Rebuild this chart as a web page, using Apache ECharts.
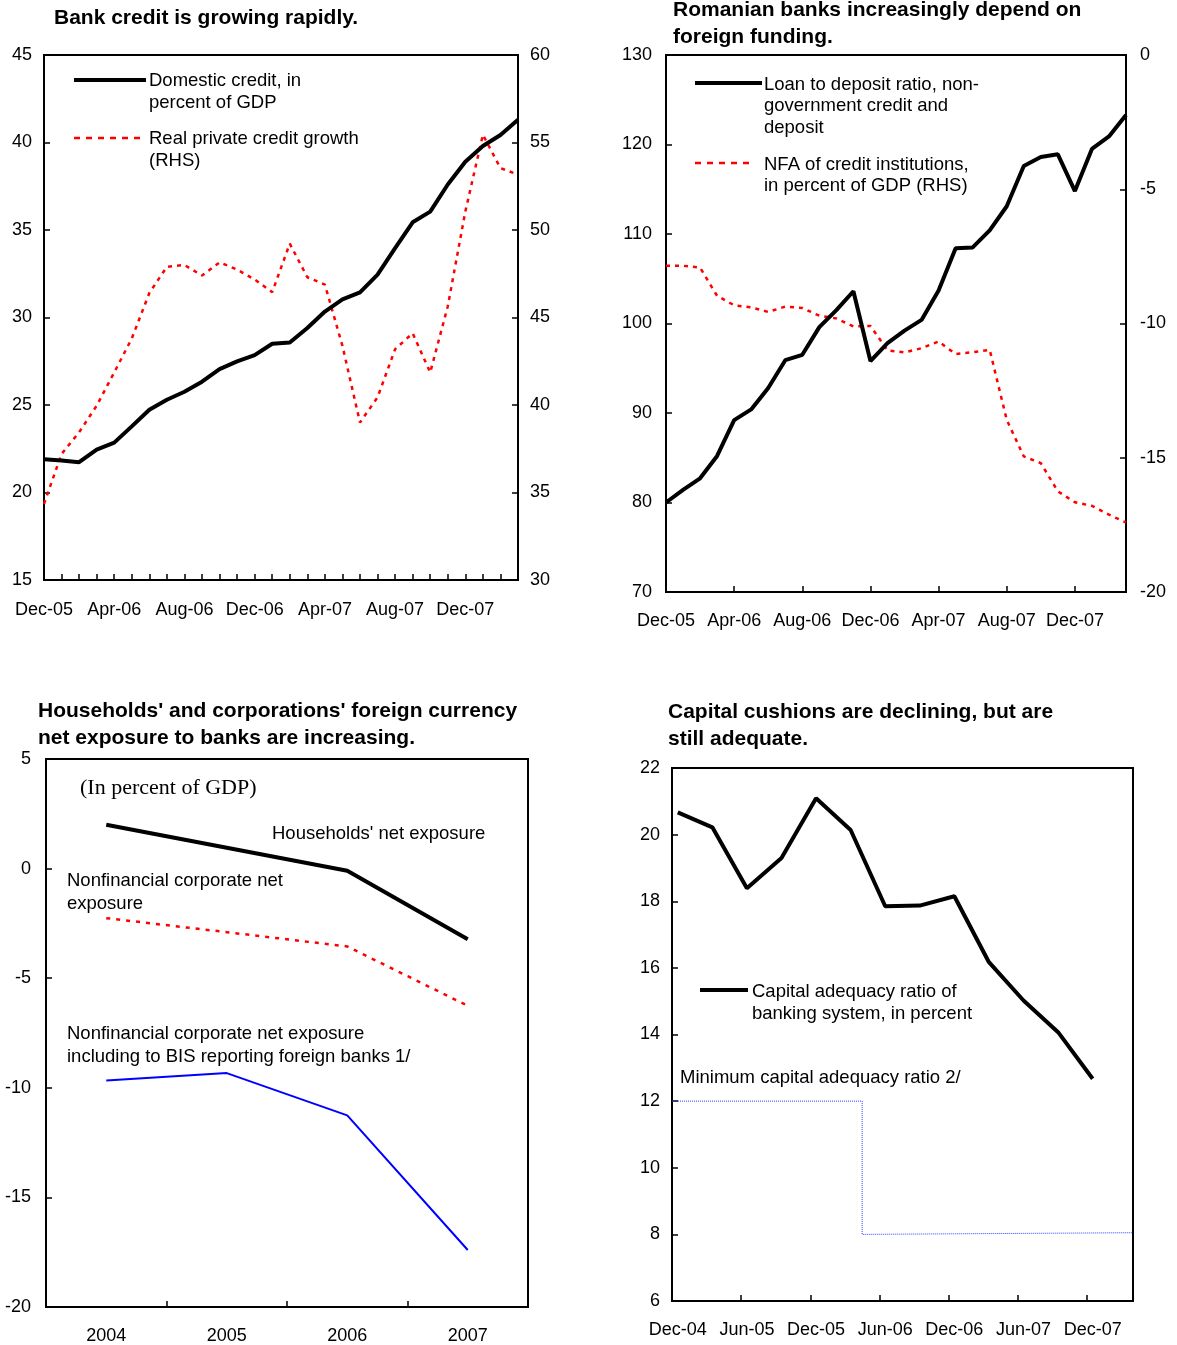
<!DOCTYPE html>
<html>
<head>
<meta charset="utf-8">
<script src="https://cdn.jsdelivr.net/npm/echarts@6/dist/echarts.min.js"></script>
<style>
html,body{margin:0;padding:0;background:#fff;}
#c{width:1177px;height:1345px;}
</style>
</head>
<body>
<div id="c"></div>
<script>
// ---------- tick label helpers ----------
const MONTH_NAMES = ['Jan','Feb','Mar','Apr','May','Jun','Jul','Aug','Sep','Oct','Nov','Dec'];
function monthLabels(startYear, startMonthIdx, count) {
  const out = [];
  for (let i = 0; i < count; i++) {
    const m = (startMonthIdx + i) % 12;
    const y = startYear + Math.floor((startMonthIdx + i) / 12);
    out.push(MONTH_NAMES[m] + '-' + String(y % 100).padStart(2, '0'));
  }
  return out;
}

// ---------- Panel 1: Bank credit (Dec-05 .. Mar-08, monthly) ----------
const creditMonths = monthLabels(2005, 11, 28);
const domesticCredit = [21.9, 21.83, 21.73, 22.45, 22.85, 23.78, 24.73, 25.3, 25.76, 26.33,
  27.05, 27.49, 27.85, 28.5, 28.57, 29.4, 30.34, 31.03, 31.44, 32.45,
  33.97, 35.44, 36.05, 37.6, 38.9, 39.8, 40.43, 41.3];
const realCreditGrowth = [34.35, 37.2, 38.44, 39.96, 41.86, 43.8, 46.4, 47.9, 48.0, 47.4,
  48.15, 47.74, 47.17, 46.45, 49.22, 47.3, 46.88, 43.38, 39.0, 40.44,
  43.19, 44.1, 41.86, 45.64, 51.06, 55.44, 53.54, 53.16];

// ---------- Panel 2: Foreign funding (Dec-05 .. Mar-08, monthly) ----------
const fundingMonths = monthLabels(2005, 11, 28);
const loanDepositRatio = [80.0, 81.4, 82.7, 85.2, 89.2, 90.4, 92.8, 95.9, 96.5, 99.6,
  101.5, 103.6, 95.8, 97.8, 99.2, 100.4, 103.7, 108.4, 108.5, 110.4,
  113.1, 117.6, 118.6, 118.9, 114.8, 119.5, 120.9, 123.3];
const nfaCreditInst = [-7.85, -7.85, -7.92, -8.97, -9.32, -9.4, -9.57, -9.37, -9.42, -9.71,
  -9.81, -10.11, -10.09, -11.0, -11.08, -10.92, -10.67, -11.14, -11.07, -10.98,
  -13.59, -14.95, -15.2, -16.25, -16.66, -16.79, -17.12, -17.41];

// ---------- Panel 3: FX net exposure ----------
const exposureYears = ['2004', '2005', '2006', '2007'];
const householdsExposure = [2.0, 0.95, -0.1, -3.22];
const corporateExposure = [-2.26, -2.9, -3.55, -6.26];
const corporateBisExposure = [-9.67, -9.33, -11.26, -17.4];

// ---------- Panel 4: Capital adequacy (Dec-04 .. Mar-08 axis) ----------
const carMonths = monthLabels(2004, 11, 40);
const carQuarterly = [20.67, 20.22, 18.39, 19.3, 21.09, 20.14, 17.85, 17.87, 18.15,
  16.17, 15.02, 14.07, 12.67]; // Dec-04, Mar-05, ..., Dec-07
const minCarSteps = [[0, 12], [16.5, 12], [16.5, 8], [40, 8.05]]; // [month position, ratio]

const carSeriesData = carMonths.map((m, i) =>
  (i % 3 === 0 && i / 3 < carQuarterly.length) ? carQuarterly[i / 3] : null);

// ---------- styling ----------
const FONT = '"Liberation Sans", Arial, sans-serif';
const TICK_FS = 18;
const TEXT_FS = 18.5;
const TITLE_FS = 21;
const RED = '#ff0000';

function yAxis(grid, min, max, interval, position, margin) {
  return {
    gridIndex: grid, type: 'value', min: min, max: max, interval: interval, position: position,
    axisLine: { show: true, onZero: false, lineStyle: { color: '#000', width: 2 } },
    axisTick: { show: true, inside: true, length: 6, lineStyle: { color: '#000', width: 1.5 } },
    axisLabel: { color: '#000', fontSize: TICK_FS, fontFamily: FONT, margin: margin },
    splitLine: { show: false }
  };
}
function xCat(grid, data, boundaryGap, labelInterval, tickInterval, margin) {
  return {
    gridIndex: grid, type: 'category', data: data, boundaryGap: boundaryGap,
    axisLine: { show: true, onZero: false, lineStyle: { color: '#000', width: 2 } },
    axisTick: { show: true, inside: true, length: 6, interval: tickInterval, lineStyle: { color: '#000', width: 1.5 } },
    axisLabel: { color: '#000', fontSize: TICK_FS, fontFamily: FONT, margin: margin, interval: labelInterval },
    splitLine: { show: false }
  };
}
const gridBase = { show: true, borderColor: '#000', borderWidth: 2, backgroundColor: 'transparent', containLabel: false };

function txt(x, y, text, opts) {
  opts = opts || {};
  return {
    type: 'text', left: x, top: y, silent: true,
    style: {
      text: text, fill: '#000',
      font: (opts.weight || 'normal') + ' ' + (opts.size || TEXT_FS) + 'px ' + (opts.family || FONT),
      lineHeight: opts.lh || 22
    }
  };
}
function seg(x1, y1, x2, y2, color, width, dash) {
  return {
    type: 'line', silent: true,
    shape: { x1: x1, y1: y1, x2: x2, y2: y2 },
    style: { stroke: color, lineWidth: width, lineDash: dash || null }
  };
}

const option = {
  backgroundColor: '#fff',
  animation: false,
  grid: [
    Object.assign({ left: 44, top: 55, width: 474, height: 525 }, gridBase),
    Object.assign({ left: 666, top: 55, width: 460, height: 537 }, gridBase),
    Object.assign({ left: 46, top: 759, width: 482, height: 548 }, gridBase),
    Object.assign({ left: 672, top: 768, width: 461, height: 533 }, gridBase)
  ],
  xAxis: [
    xCat(0, creditMonths, false, 3, 0, 21),
    xCat(1, fundingMonths, false, 3, 3, 20),
    xCat(2, exposureYears, true, 0, 0, 20),
    xCat(3, carMonths, true, 5, 5, 20),
    { gridIndex: 3, type: 'value', min: 0, max: 40, show: false }
  ],
  yAxis: [
    yAxis(0, 15, 45, 5, 'left', 12),
    yAxis(0, 30, 60, 5, 'right', 12),
    yAxis(1, 70, 130, 10, 'left', 14),
    yAxis(1, -20, 0, 5, 'right', 14),
    yAxis(2, -20, 5, 5, 'left', 15),
    yAxis(3, 6, 22, 2, 'left', 12)
  ],
  series: [
    { name: 'Domestic credit', type: 'line', xAxisIndex: 0, yAxisIndex: 0, data: domesticCredit,
      symbol: 'none', lineStyle: { color: '#000', width: 4 }, z: 3 },
    { name: 'Real private credit growth', type: 'line', xAxisIndex: 0, yAxisIndex: 1, data: realCreditGrowth,
      symbol: 'none', lineStyle: { color: RED, width: 2.5, type: [4, 5] }, z: 2 },
    { name: 'Loan to deposit ratio', type: 'line', xAxisIndex: 1, yAxisIndex: 2, data: loanDepositRatio,
      symbol: 'none', lineStyle: { color: '#000', width: 4 }, z: 3 },
    { name: 'NFA', type: 'line', xAxisIndex: 1, yAxisIndex: 3, data: nfaCreditInst,
      symbol: 'none', lineStyle: { color: RED, width: 2.5, type: [4, 5] }, z: 2 },
    { name: 'Households', type: 'line', xAxisIndex: 2, yAxisIndex: 4, data: householdsExposure,
      symbol: 'none', lineStyle: { color: '#000', width: 4 } },
    { name: 'Corporate', type: 'line', xAxisIndex: 2, yAxisIndex: 4, data: corporateExposure,
      symbol: 'none', lineStyle: { color: RED, width: 2.5, type: [4, 6] } },
    { name: 'Corporate BIS', type: 'line', xAxisIndex: 2, yAxisIndex: 4, data: corporateBisExposure,
      symbol: 'none', lineStyle: { color: '#0000ff', width: 2 } },
    { name: 'CAR', type: 'line', xAxisIndex: 3, yAxisIndex: 5, data: carSeriesData, connectNulls: true,
      symbol: 'none', lineStyle: { color: '#000', width: 4 } },
    { name: 'Min CAR', type: 'line', xAxisIndex: 4, yAxisIndex: 5, data: minCarSteps,
      symbol: 'none', lineStyle: { color: '#3340ff', width: 1, type: [1, 1] } }
  ],
  graphic: [
    // titles
    txt(54, 7, 'Bank credit is growing rapidly.', { weight: 'bold', size: TITLE_FS }),
    txt(673, -3.5, 'Romanian banks increasingly depend on\nforeign funding.', { weight: 'bold', size: TITLE_FS, lh: 27 }),
    txt(38, 697.5, "Households' and corporations' foreign currency\nnet exposure to banks are increasing.", { weight: 'bold', size: TITLE_FS, lh: 27 }),
    txt(668, 698.5, 'Capital cushions are declining, but are\nstill adequate.', { weight: 'bold', size: TITLE_FS, lh: 27 }),
    // panel 1 legend
    seg(74, 80, 146, 80, '#000', 4),
    txt(149, 70, 'Domestic credit, in\npercent of GDP'),
    seg(74, 138, 146, 138, RED, 2.5, [6, 6]),
    txt(149, 128, 'Real private credit growth\n(RHS)'),
    // panel 2 legend
    seg(695, 83, 762, 83, '#000', 4),
    txt(764, 74, 'Loan to deposit ratio, non-\ngovernment credit and\ndeposit', { lh: 21.5 }),
    seg(695, 163, 755, 163, RED, 2.5, [6, 6]),
    txt(764, 154, 'NFA of credit institutions,\nin percent of GDP (RHS)', { lh: 21.5 }),
    // panel 3 labels
    txt(80, 776, '(In percent of GDP)', { size: 22, family: '"Liberation Serif", "Times New Roman", serif', lh: 24 }),
    txt(272, 823, "Households' net exposure"),
    txt(67, 869, 'Nonfinancial corporate net\nexposure', { lh: 23 }),
    txt(67, 1022, 'Nonfinancial corporate net exposure\nincluding to BIS reporting foreign banks 1/', { lh: 23 }),
    // panel 4 labels
    seg(700, 990, 748, 990, '#000', 4),
    txt(752, 981, 'Capital adequacy ratio of\nbanking system, in percent'),
    txt(680, 1067, 'Minimum capital adequacy ratio 2/')
  ]
};

const chart = echarts.init(document.getElementById('c'), null, { renderer: 'canvas' });
chart.setOption(option);
</script>
</body>
</html>
